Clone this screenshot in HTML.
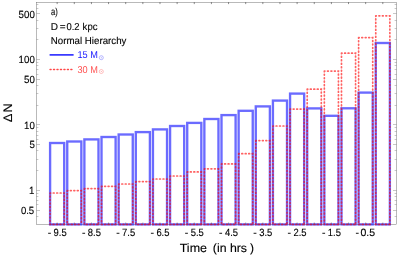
<!DOCTYPE html>
<html><head><meta charset="utf-8"><title>chart</title>
<style>html,body{margin:0;padding:0;background:#fff;overflow:hidden}svg text{font-family:"Liberation Sans",sans-serif;text-rendering:geometricPrecision}</style>
</head><body>
<svg width="399" height="256" viewBox="0 0 399 256" style="display:block;will-change:transform;font-family:'Liberation Sans',sans-serif">
<rect x="0" y="0" width="399" height="256" fill="#fff"/>
<g stroke="#666" stroke-width="0.46" fill="none">
<rect x="36.5" y="2.5" width="360.0" height="222.0"/>
</g>
<g stroke="#666" stroke-width="0.36" fill="none">
<path d="M36.5 210.5h3.5M396.5 210.5h-3.5"/>
<path d="M36.5 190.5h3.5M396.5 190.5h-3.5"/>
<path d="M36.5 144.5h3.5M396.5 144.5h-3.5"/>
<path d="M36.5 124.5h3.5M396.5 124.5h-3.5"/>
<path d="M36.5 79.5h3.5M396.5 79.5h-3.5"/>
<path d="M36.5 59.5h3.5M396.5 59.5h-3.5"/>
<path d="M36.5 13.5h3.5M396.5 13.5h-3.5"/>
<path d="M36.5 216.5h1.9M396.5 216.5h-1.9"/>
<path d="M36.5 204.5h1.9M396.5 204.5h-1.9"/>
<path d="M36.5 200.5h1.9M396.5 200.5h-1.9"/>
<path d="M36.5 196.5h1.9M396.5 196.5h-1.9"/>
<path d="M36.5 193.5h1.9M396.5 193.5h-1.9"/>
<path d="M36.5 170.5h1.9M396.5 170.5h-1.9"/>
<path d="M36.5 159.5h1.9M396.5 159.5h-1.9"/>
<path d="M36.5 150.5h1.9M396.5 150.5h-1.9"/>
<path d="M36.5 139.5h1.9M396.5 139.5h-1.9"/>
<path d="M36.5 135.5h1.9M396.5 135.5h-1.9"/>
<path d="M36.5 131.5h1.9M396.5 131.5h-1.9"/>
<path d="M36.5 127.5h1.9M396.5 127.5h-1.9"/>
<path d="M36.5 105.5h1.9M396.5 105.5h-1.9"/>
<path d="M36.5 93.5h1.9M396.5 93.5h-1.9"/>
<path d="M36.5 85.5h1.9M396.5 85.5h-1.9"/>
<path d="M36.5 74.5h1.9M396.5 74.5h-1.9"/>
<path d="M36.5 69.5h1.9M396.5 69.5h-1.9"/>
<path d="M36.5 65.5h1.9M396.5 65.5h-1.9"/>
<path d="M36.5 62.5h1.9M396.5 62.5h-1.9"/>
<path d="M36.5 39.5h1.9M396.5 39.5h-1.9"/>
<path d="M36.5 28.5h1.9M396.5 28.5h-1.9"/>
<path d="M36.5 20.5h1.9M396.5 20.5h-1.9"/>
<path d="M36.5 8.5h1.9M396.5 8.5h-1.9"/>
<path d="M36.5 4.5h1.9M396.5 4.5h-1.9"/>
<path stroke-width="0.75" d="M57.15 2.0v2.1"/>
<path stroke-width="0.75" d="M74.29 2.0v2.1"/>
<path stroke-width="0.75" d="M91.43 2.0v2.1"/>
<path stroke-width="0.75" d="M108.57 2.0v2.1"/>
<path stroke-width="0.75" d="M125.71 2.0v2.1"/>
<path stroke-width="0.75" d="M142.85 2.0v2.1"/>
<path stroke-width="0.75" d="M159.99 2.0v2.1"/>
<path stroke-width="0.75" d="M177.13 2.0v2.1"/>
<path stroke-width="0.75" d="M194.27 2.0v2.1"/>
<path stroke-width="0.75" d="M211.41 2.0v2.1"/>
<path stroke-width="0.75" d="M228.55 2.0v2.1"/>
<path stroke-width="0.75" d="M245.69 2.0v2.1"/>
<path stroke-width="0.75" d="M262.83 2.0v2.1"/>
<path stroke-width="0.75" d="M279.97 2.0v2.1"/>
<path stroke-width="0.75" d="M297.11 2.0v2.1"/>
<path stroke-width="0.75" d="M314.25 2.0v2.1"/>
<path stroke-width="0.75" d="M331.39 2.0v2.1"/>
<path stroke-width="0.75" d="M348.53 2.0v2.1"/>
<path stroke-width="0.75" d="M365.67 2.0v2.1"/>
<path stroke-width="0.75" d="M382.81 2.0v2.1"/>
</g>
<g fill="none" stroke="rgb(0,0,255)" stroke-opacity="0.58" stroke-width="2.35" stroke-linejoin="miter">
<rect x="50.10" y="143.0" width="14.10" height="81.40"/>
<rect x="67.24" y="141.5" width="14.10" height="82.90"/>
<rect x="84.38" y="139.4" width="14.10" height="85.00"/>
<rect x="101.52" y="137.0" width="14.10" height="87.40"/>
<rect x="118.66" y="134.5" width="14.10" height="89.90"/>
<rect x="135.80" y="132.1" width="14.10" height="92.30"/>
<rect x="152.94" y="129.4" width="14.10" height="95.00"/>
<rect x="170.08" y="126.0" width="14.10" height="98.40"/>
<rect x="187.22" y="122.9" width="14.10" height="101.50"/>
<rect x="204.36" y="119.0" width="14.10" height="105.40"/>
<rect x="221.50" y="115.1" width="14.10" height="109.30"/>
<rect x="238.64" y="110.8" width="14.10" height="113.60"/>
<rect x="255.78" y="106.4" width="14.10" height="118.00"/>
<rect x="272.92" y="100.6" width="14.10" height="123.80"/>
<rect x="290.06" y="93.6" width="14.10" height="130.80"/>
<rect x="307.20" y="108.4" width="14.10" height="116.00"/>
<rect x="324.34" y="115.8" width="14.10" height="108.60"/>
<rect x="341.48" y="108.3" width="14.10" height="116.10"/>
<rect x="358.62" y="92.6" width="14.10" height="131.80"/>
<rect x="375.76" y="43.0" width="14.10" height="181.40"/>
</g>
<g fill="none" stroke="rgb(255,0,0)" stroke-opacity="0.62" stroke-width="1.7" stroke-linecap="round" stroke-dasharray="0.85 2.62" stroke-dashoffset="0.3">
<path d="M50.10 193.0H64.20V224.4M50.10 193.0V224.4H64.20"/>
<path d="M67.24 190.6H81.34V224.4M67.24 190.6V224.4H81.34"/>
<path d="M84.38 188.6H98.48V224.4M84.38 188.6V224.4H98.48"/>
<path d="M101.52 186.3H115.62V224.4M101.52 186.3V224.4H115.62"/>
<path d="M118.66 184.0H132.76V224.4M118.66 184.0V224.4H132.76"/>
<path d="M135.80 181.6H149.90V224.4M135.80 181.6V224.4H149.90"/>
<path d="M152.94 179.0H167.04V224.4M152.94 179.0V224.4H167.04"/>
<path d="M170.08 176.0H184.18V224.4M170.08 176.0V224.4H184.18"/>
<path d="M187.22 171.9H201.32V224.4M187.22 171.9V224.4H201.32"/>
<path d="M204.36 168.8H218.46V224.4M204.36 168.8V224.4H218.46"/>
<path d="M221.50 163.9H235.60V224.4M221.50 163.9V224.4H235.60"/>
<path d="M238.64 153.7H252.74V224.4M238.64 153.7V224.4H252.74"/>
<path d="M255.78 140.6H269.88V224.4M255.78 140.6V224.4H269.88"/>
<path d="M272.92 126.0H287.02V224.4M272.92 126.0V224.4H287.02"/>
<path d="M290.06 109.1H304.16V224.4M290.06 109.1V224.4H304.16"/>
<path d="M307.20 89.2H321.30V224.4M307.20 89.2V224.4H321.30"/>
<path d="M324.34 71.1H338.44V224.4M324.34 71.1V224.4H338.44"/>
<path d="M341.48 53.2H355.58V224.4M341.48 53.2V224.4H355.58"/>
<path d="M358.62 37.6H372.72V224.4M358.62 37.6V224.4H372.72"/>
<path d="M375.76 15.8H389.86V224.4M375.76 15.8V224.4H389.86"/>
</g>
<g stroke="#444" stroke-opacity="0.55" stroke-width="0.7" fill="none">
<path d="M57.15 224.3v-1.9"/>
<path d="M74.29 224.3v-1.9"/>
<path d="M91.43 224.3v-1.9"/>
<path d="M108.57 224.3v-1.9"/>
<path d="M125.71 224.3v-1.9"/>
<path d="M142.85 224.3v-1.9"/>
<path d="M159.99 224.3v-1.9"/>
<path d="M177.13 224.3v-1.9"/>
<path d="M194.27 224.3v-1.9"/>
<path d="M211.41 224.3v-1.9"/>
<path d="M228.55 224.3v-1.9"/>
<path d="M245.69 224.3v-1.9"/>
<path d="M262.83 224.3v-1.9"/>
<path d="M279.97 224.3v-1.9"/>
<path d="M297.11 224.3v-1.9"/>
<path d="M314.25 224.3v-1.9"/>
<path d="M331.39 224.3v-1.9"/>
<path d="M348.53 224.3v-1.9"/>
<path d="M365.67 224.3v-1.9"/>
<path d="M382.81 224.3v-1.9"/>
</g>
<g font-size="10.4" fill="#000" stroke="#000" stroke-width="0.12">
<text x="20.90" y="213.85" textLength="13.3" lengthAdjust="spacingAndGlyphs">0.5</text>
<text x="29.00" y="194.15" textLength="5.4" lengthAdjust="spacingAndGlyphs">1</text>
<text x="29.40" y="148.40" textLength="5.4" lengthAdjust="spacingAndGlyphs">5</text>
<text x="24.00" y="128.70" textLength="10.8" lengthAdjust="spacingAndGlyphs">10</text>
<text x="24.00" y="82.95" textLength="10.8" lengthAdjust="spacingAndGlyphs">50</text>
<text x="18.60" y="63.25" textLength="16.2" lengthAdjust="spacingAndGlyphs">100</text>
<text x="18.60" y="17.50" textLength="16.2" lengthAdjust="spacingAndGlyphs">500</text>
</g>
<g font-size="10.5" fill="#000" stroke="#000" stroke-width="0.12">
<text x="47.65" y="235.75">-</text>
<text x="53.55" y="235.75" textLength="13.1" lengthAdjust="spacingAndGlyphs">9.5</text>
<text x="81.93" y="235.75">-</text>
<text x="87.83" y="235.75" textLength="13.1" lengthAdjust="spacingAndGlyphs">8.5</text>
<text x="116.21" y="235.75">-</text>
<text x="122.11" y="235.75" textLength="13.1" lengthAdjust="spacingAndGlyphs">7.5</text>
<text x="150.49" y="235.75">-</text>
<text x="156.39" y="235.75" textLength="13.1" lengthAdjust="spacingAndGlyphs">6.5</text>
<text x="184.77" y="235.75">-</text>
<text x="190.67" y="235.75" textLength="13.1" lengthAdjust="spacingAndGlyphs">5.5</text>
<text x="219.05" y="235.75">-</text>
<text x="224.95" y="235.75" textLength="13.1" lengthAdjust="spacingAndGlyphs">4.5</text>
<text x="253.33" y="235.75">-</text>
<text x="259.23" y="235.75" textLength="13.1" lengthAdjust="spacingAndGlyphs">3.5</text>
<text x="287.61" y="235.75">-</text>
<text x="293.51" y="235.75" textLength="13.1" lengthAdjust="spacingAndGlyphs">2.5</text>
<text x="321.89" y="235.75">-</text>
<text x="327.79" y="235.75" textLength="13.1" lengthAdjust="spacingAndGlyphs">1.5</text>
<text x="355.57" y="235.75">-</text>
<text x="360.47" y="235.75" textLength="14.6" lengthAdjust="spacingAndGlyphs">0.5</text>
</g>
<g font-size="12" fill="#000" stroke="#000" stroke-width="0.12">
<text x="179.7" y="252" textLength="27.3" lengthAdjust="spacingAndGlyphs">Time</text>
<text x="212.8" y="252" textLength="34.2" lengthAdjust="spacingAndGlyphs" xml:space="preserve">(in hrs</text>
<text x="249.9" y="252">)</text>
<text transform="translate(12.2,122.2) rotate(-90)" font-size="12.4" textLength="8.7" lengthAdjust="spacingAndGlyphs">Δ</text>
<text transform="translate(12.2,112.5) rotate(-90)" font-size="12.4" textLength="9.1" lengthAdjust="spacingAndGlyphs">N</text>
</g>
<g font-size="10" fill="#000" stroke="#000" stroke-width="0.12">
<text x="51" y="14.7" textLength="6.8" lengthAdjust="spacingAndGlyphs">a)</text>
<text x="50.7" y="29.8">D</text>
<text x="59.7" y="29.8">=</text>
<text x="66.4" y="29.8" textLength="13.1" lengthAdjust="spacingAndGlyphs">0.2</text>
<text x="82.6" y="29.8" textLength="14.9" lengthAdjust="spacingAndGlyphs">kpc</text>
<text x="50.8" y="44.2" textLength="75.6" lengthAdjust="spacingAndGlyphs">Normal Hierarchy</text>
</g>
<path d="M49.6 54.9H73.6" stroke="#0808ff" stroke-width="1.4" fill="none"/>
<text x="77.5" y="58.3" font-size="10" fill="#1414ff" textLength="20.4" lengthAdjust="spacingAndGlyphs">15 M</text>
<circle cx="101.3" cy="57.7" r="2.0" fill="none" stroke="#1414ff" stroke-opacity="0.55" stroke-width="0.55"/><circle cx="101.3" cy="57.7" r="0.5" fill="#1414ff" fill-opacity="0.5"/>
<path d="M50.07 69.46H72.3" stroke="rgb(255,0,0)" stroke-opacity="0.72" stroke-width="1.5" stroke-linecap="round" stroke-dasharray="1 2.47" fill="none"/>
<text x="77.5" y="72.6" font-size="10" fill="#ff5252" textLength="20.4" lengthAdjust="spacingAndGlyphs">30 M</text>
<circle cx="101.3" cy="71.5" r="2.0" fill="none" stroke="#ff5252" stroke-opacity="0.65" stroke-width="0.55"/><circle cx="101.3" cy="71.5" r="0.5" fill="#ff5252" fill-opacity="0.6"/>
</svg>
</body></html>
